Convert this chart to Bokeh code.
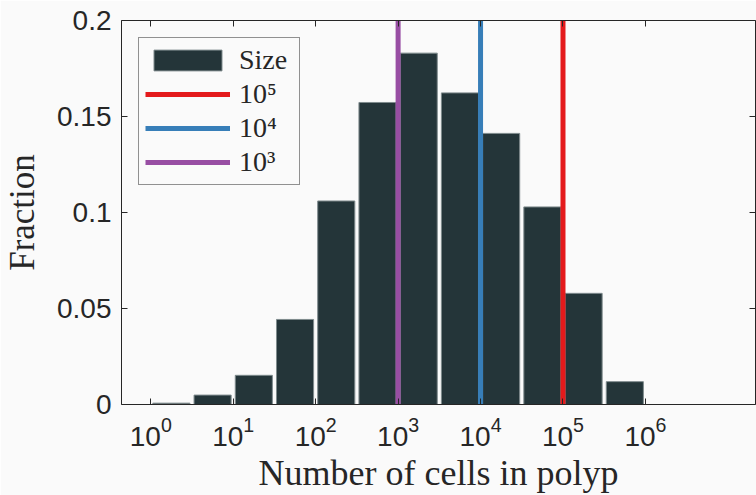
from bokeh.plotting import figure
from bokeh.models import (FixedTicker, LogAxis, LinearAxis, Legend, LegendItem, Range1d)
from bokeh.embed import file_html
from bokeh.resources import INLINE

# ---- data ----
# histogram bins are half-decade wide; edges given as log10 exponents
bin_edge_exponents = [0, 0.5, 1, 1.5, 2, 2.5, 3, 3.5, 4, 4.5, 5, 5.5, 6]
fractions = [0.0007, 0.0049, 0.0152, 0.0443, 0.1060, 0.1573, 0.1830, 0.1623,
             0.1412, 0.1029, 0.0579, 0.0119]
bar_label = "Size"
threshold_values = [1e5, 1e4, 1e3]
threshold_labels = ["10\u2075", "10\u2074", "10\u00b3"]
x_ticks = [1, 10, 100, 1000, 10000, 100000, 1000000]
y_ticks = [0, 0.05, 0.1, 0.15, 0.2]
y_tick_labels = ["0", "0.05", "0.1", "0.15", "0.2"]
x_limits = (10 ** -0.355, 10 ** 7.335)
y_limits = (0.0, 0.2)

# ---- styles ----
BG = "#fafafa"
AX = "#262626"
BAR = "#243539"
threshold_colors = ["#e41a1c", "#377eb8", "#984ea3"]
SANS = "Liberation Sans"
SERIF = "Liberation Serif"
GAP = 0.025  # half gap between bars, in decades

bar_left = [10 ** (lo + GAP) for lo in bin_edge_exponents[:-1]]
bar_right = [10 ** (hi - GAP) for hi in bin_edge_exponents[1:]]

p = figure(width=756, height=495, x_axis_type="log",
           x_range=Range1d(*x_limits), y_range=Range1d(*y_limits),
           output_backend="svg", toolbar_location=None,
           min_border_left=121, min_border_right=1, min_border_top=20, min_border_bottom=89,
           background_fill_color=BG, border_fill_color=BG, outline_line_color=None)
p.grid.visible = False

bars = p.quad(left=bar_left, right=bar_right, top=fractions, bottom=0,
              fill_color=BAR, line_color="#7f8b8d", line_width=1)

line_renderers = []
for v, c in zip(threshold_values, threshold_colors):
    r = p.segment(x0=[v], x1=[v], y0=[y_limits[0]], y1=[y_limits[1]],
                  line_color=c, line_width=5)
    line_renderers.append(r)


def style_axis(ax, ticks):
    ax.ticker = FixedTicker(ticks=ticks)
    ax.major_tick_in = 6
    ax.major_tick_out = 0
    ax.minor_tick_line_color = None
    ax.axis_line_color = AX
    ax.axis_line_width = 1
    ax.major_tick_line_color = AX
    ax.major_tick_line_width = 1


def hide_labels(ax):
    ax.major_label_text_font_size = "1px"
    ax.major_label_text_color = None
    ax.major_label_standoff = 0


# bottom axis: 10^n labels from the log formatter
xa = p.xaxis[0]
style_axis(xa, x_ticks)
xa.major_label_text_font = SANS
xa.major_label_text_font_size = "28px"
xa.major_label_text_color = AX
xa.major_label_standoff = 12
xa.axis_label = "Number of cells in polyp"
xa.axis_label_text_font = SERIF
xa.axis_label_text_font_size = "36px"
xa.axis_label_text_font_style = "normal"
xa.axis_label_text_color = AX
xa.axis_label_standoff = 4

# left axis
ya = p.yaxis[0]
style_axis(ya, y_ticks)
ya.major_label_overrides = dict(zip(y_ticks, y_tick_labels))
ya.major_label_text_font = SANS
ya.major_label_text_font_size = "28px"
ya.major_label_text_color = AX
ya.major_label_standoff = 10
ya.axis_label = "Fraction"
ya.axis_label_text_font = SERIF
ya.axis_label_text_font_size = "35px"
ya.axis_label_text_font_style = "normal"
ya.axis_label_text_color = AX
ya.axis_label_standoff = 12

# mirrored axes (ticks only)
top = LogAxis()
style_axis(top, x_ticks)
hide_labels(top)
p.add_layout(top, "above")

right = LinearAxis()
style_axis(right, y_ticks)
hide_labels(right)
p.add_layout(right, "right")

items = [LegendItem(label=bar_label, renderers=[bars])]
for lab, r in zip(threshold_labels, line_renderers):
    items.append(LegendItem(label=lab, renderers=[r]))
legend = Legend(items=items, location="top_left", margin=17, padding=6,
                glyph_width=85, glyph_height=26, label_standoff=9, spacing=2,
                label_width=54,
                label_text_font=SERIF, label_text_font_size="28px", label_text_color=AX,
                border_line_color=AX, border_line_width=1,
                background_fill_color=BG, background_fill_alpha=1.0)
p.add_layout(legend)

open("out.html", "w").write(file_html(p, INLINE))
